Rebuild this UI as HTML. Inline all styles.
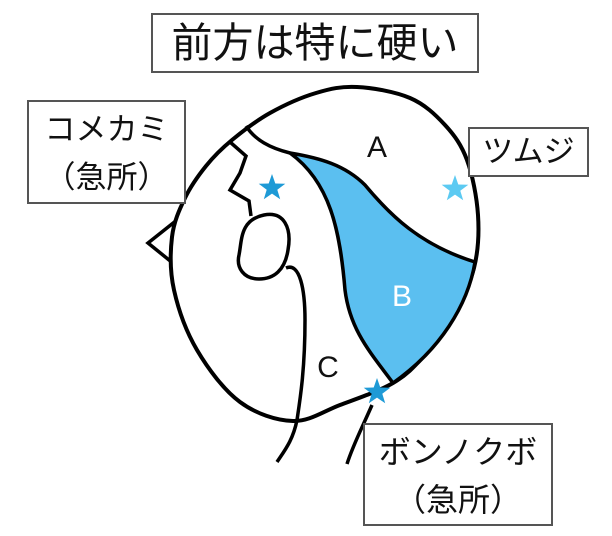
<!DOCTYPE html>
<html><head><meta charset="utf-8"><style>
html,body{margin:0;padding:0;background:#fff;}
body{width:612px;height:536px;position:relative;overflow:hidden;font-family:"Liberation Sans","Noto Sans CJK JP",sans-serif;}
.box{position:absolute;border:2px solid #555;background:#fff;box-sizing:border-box;text-align:center;color:#111;}
</style></head><body>
<svg width="612" height="536" style="position:absolute;left:0;top:0">
<defs>
<polygon id="st" points="0,-14 3.3,-4.5 13.3,-4.3 5.3,1.7 8.2,11.3 0,5.6 -8.2,11.3 -5.3,1.7 -13.3,-4.3 -3.3,-4.5"/>
</defs>
<polyline points="182,216 148,243 174,264" fill="#fff" stroke="#000" stroke-width="3.5" stroke-linejoin="miter"/>
<path id="head" d="" fill="#fff" stroke="#000" stroke-width="4"/>
<path d="M290 153 C320 158 345 165 365 185 C390 215 420 245 475 262 C468 305 440 350 393 383 C370 352 350 330 345 290 C340 230 330 182 290 153 Z" fill="#5bbff0" stroke="#000" stroke-width="3.5" stroke-linejoin="round"/>
<path d="M246 126 C255 140 270 148 290 153" fill="none" stroke="#000" stroke-width="3.5"/>
<path d="M230 142 L246 156 L240 173 L230 190 L249 201 L251 216" fill="none" stroke="#000" stroke-width="3.5" stroke-linejoin="miter"/>
<path d="M264 215 C284 211 292 228 288 250 C285 270 274 279 259 279 C244 279 236 268 239 255 C242 240 240 220 264 215 Z" fill="#fff" stroke="#000" stroke-width="3.5"/>
<path d="M286 268 C300 262 305 290 305 320 C305 370 300 400 297 420 C293 440 285 450 277 462" fill="none" stroke="#000" stroke-width="3.5"/>
<path d="M372 405 C362 428 353 445 347 464" fill="none" stroke="#000" stroke-width="3.5"/>
<use href="#st" x="272" y="188" fill="#1e9ad6"/>
<use href="#st" x="455" y="189" fill="#5ccaf2"/>
<use href="#st" x="377" y="392" fill="#1e9ad6"/>
<text x="377" y="157" font-size="30" text-anchor="middle" font-family="Liberation Sans" fill="#111">A</text>
<text x="402" y="306" font-size="30" text-anchor="middle" font-family="Liberation Sans" fill="#fff">B</text>
<text x="328" y="377" font-size="30" text-anchor="middle" font-family="Liberation Sans" fill="#111">C</text>
</svg>
<script>
(function(){
var p=[[357,87],[410,98],[445,125],[467,160],[478,215],[474,268],[452,318],[424,356],[393,383],[340,405],[293,421],[240,402],[197,350],[174,290],[172,237],[185,198],[206,166],[232,140],[270,113],[316,93]];
var n=p.length,d="M"+p[0][0]+" "+p[0][1];
for(var i=0;i<n;i++){var a=p[(i-1+n)%n],b=p[i],c=p[(i+1)%n],e=p[(i+2)%n];
d+=" C"+(b[0]+(c[0]-a[0])/6).toFixed(1)+" "+(b[1]+(c[1]-a[1])/6).toFixed(1)+" "+(c[0]-(e[0]-b[0])/6).toFixed(1)+" "+(c[1]-(e[1]-b[1])/6).toFixed(1)+" "+c[0]+" "+c[1];}
document.getElementById("head").setAttribute("d",d+" Z");
})();
</script>
<div class="box" style="left:151px;top:13px;width:328px;height:60px;font-size:41px;line-height:56px;">前方は特に硬い</div>
<div class="box" style="left:27px;top:100px;width:159px;height:104px;font-size:31px;line-height:48px;padding-top:4px;">コメカミ<br>（急所）</div>
<div class="box" style="left:468px;top:127px;width:121px;height:50px;font-size:31px;line-height:46px;">ツムジ</div>
<div class="box" style="left:363px;top:423px;width:190px;height:103px;font-size:32px;line-height:48px;padding-top:3px;">ボンノクボ<br>（急所）</div>
</body></html>
